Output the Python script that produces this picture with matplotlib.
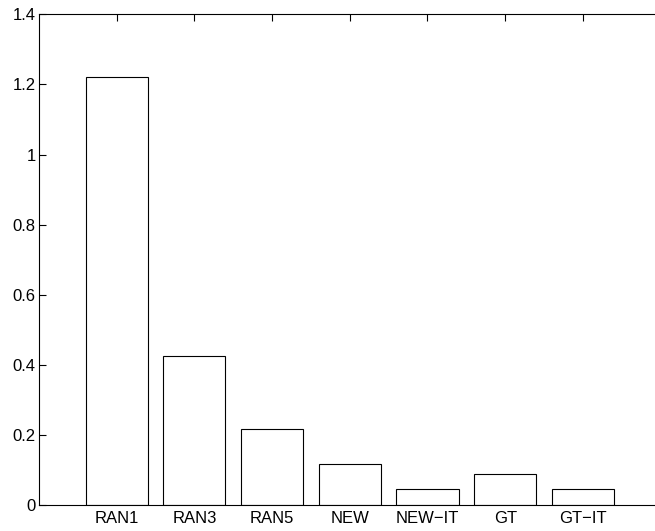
import matplotlib
matplotlib.use("Agg")
import matplotlib.pyplot as plt
import numpy as np

plt.rcParams["font.family"] = ["Liberation Sans", "DejaVu Sans"]

# Error per method
methods = ["RAN1", "RAN3", "RAN5", "NEW", "NEW\u2212IT", "GT", "GT\u2212IT"]
errors = [1.222, 0.425, 0.217, 0.116, 0.046, 0.088, 0.046]

y_ticks = [0, 0.2, 0.4, 0.6, 0.8, 1.0, 1.2, 1.4]
y_tick_labels = ["0", "0.2", "0.4", "0.6", "0.8", "1", "1.2", "1.4"]

W, H = 655, 531
fig = plt.figure(figsize=(W / 100, H / 100), dpi=100)

# axes runs slightly past the right edge of the canvas (right border is cut off)
ax = fig.add_axes([39 / W, 26 / H, 621.6 / W, 490.7 / H])

x = np.arange(1, len(methods) + 1)
ax.bar(x, errors, width=0.8, facecolor="white", edgecolor="black",
       linewidth=0.8, zorder=2)

ax.set_xlim(0, len(methods) + 1)
ax.set_ylim(0, 1.4)
ax.set_xticks(x)
ax.set_xticklabels(methods)
ax.set_yticks(y_ticks)
ax.set_yticklabels(y_tick_labels)

ax.tick_params(axis="both", direction="in", length=5, width=0.8,
               labelsize=12, top=True, right=False, colors="black")
ax.tick_params(axis="x", pad=4.5)
ax.tick_params(axis="y", pad=2.5)
for spine in ax.spines.values():
    spine.set_linewidth(0.8)
    spine.set_zorder(3)

fig.savefig("out.png", dpi=100)
